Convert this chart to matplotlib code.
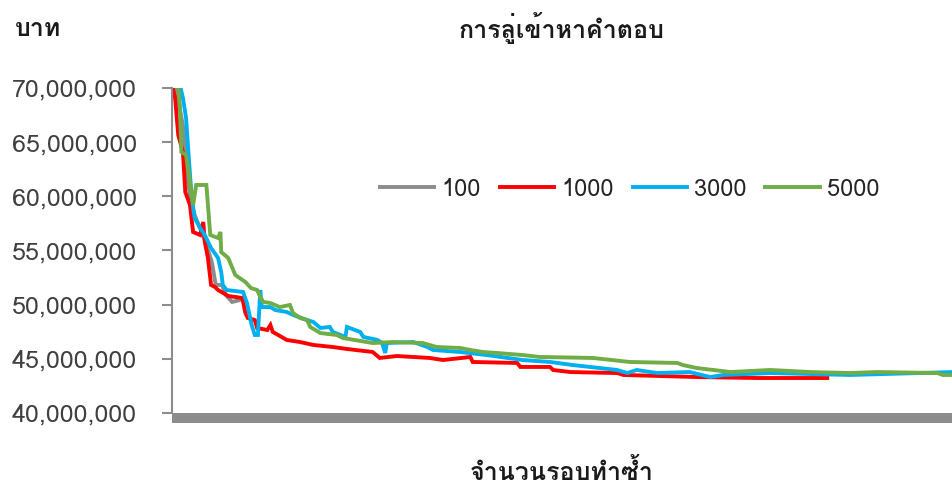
import matplotlib
matplotlib.use("Agg")
import matplotlib.pyplot as plt
from matplotlib import font_manager, ft2font
from matplotlib.patches import Rectangle
from matplotlib.ticker import FuncFormatter

# ── ข้อมูล (อ่านค่าจากภาพ) ───────────────────────────────
series_names = ["100", "1000", "3000", "5000"]
series_colors = ["#8c8c8c", "#ff0000", "#00b0f0", "#70ad47"]

x_100 = [3, 8, 15, 19, 23, 29, 42, 51, 56, 64, 69, 77, 87]
y_100 = [70.28e6, 68.89e6, 66.12e6, 61.97e6, 60.12e6, 58.28e6, 55.97e6,
         53.94e6, 51.82e6, 51.82e6, 50.89e6, 50.25e6, 50.43e6]

x_1000 = [0, 4, 8, 14, 17, 23, 27, 36, 40, 42, 46, 50, 55, 59, 72, 90, 94,
          97, 106, 109, 122, 126, 129, 136, 147, 164, 181, 206, 224, 257,
          266, 288, 330, 347, 382, 385, 442, 446, 484, 488, 510, 570, 578,
          672, 749, 839]
y_1000 = [70.28e6, 69.08e6, 65.66e6, 64.09e6, 60.40e6, 59.20e6, 56.71e6,
          56.43e6, 57.63e6, 55.78e6, 54.31e6, 51.82e6, 51.63e6, 51.35e6,
          50.80e6, 50.62e6, 49.23e6, 48.77e6, 48.58e6, 47.85e6, 47.66e6,
          48.12e6, 47.48e6, 47.20e6, 46.74e6, 46.55e6, 46.28e6, 46.09e6,
          45.91e6, 45.63e6, 45.08e6, 45.26e6, 45.08e6, 44.89e6, 45.17e6,
          44.71e6, 44.62e6, 44.25e6, 44.25e6, 43.97e6, 43.78e6, 43.69e6,
          43.51e6, 43.32e6, 43.23e6, 43.23e6]

x_3000 = [10, 14, 18, 21, 24, 27, 29, 36, 42, 50, 59, 63, 65, 70, 91, 96,
          102, 106, 110, 113, 115, 126, 132, 147, 155, 173, 181, 190, 202,
          206, 222, 224, 241, 245, 263, 269, 273, 275, 309, 327, 334, 369,
          403, 449, 484, 513, 570, 583, 595, 621, 663, 689, 706, 766, 868,
          1000]
y_3000 = [70.28e6, 69.08e6, 67.23e6, 64.09e6, 61.05e6, 58.92e6, 58.00e6,
          57.08e6, 56.43e6, 55.23e6, 54.31e6, 53.02e6, 51.82e6, 51.35e6,
          51.17e6, 50.15e6, 48.12e6, 47.20e6, 47.20e6, 51.35e6, 49.78e6,
          49.78e6, 49.51e6, 49.32e6, 49.05e6, 48.58e6, 48.40e6, 47.85e6,
          47.94e6, 47.48e6, 47.02e6, 47.94e6, 47.48e6, 47.02e6, 46.74e6,
          46.46e6, 45.54e6, 46.46e6, 46.55e6, 46.09e6, 45.82e6, 45.63e6,
          45.35e6, 44.89e6, 44.71e6, 44.43e6, 43.97e6, 43.69e6, 43.97e6,
          43.69e6, 43.78e6, 43.32e6, 43.51e6, 43.69e6, 43.51e6, 43.78e6]

x_5000 = [8, 10, 12, 18, 23, 27, 31, 44, 49, 59, 62, 63, 72, 81, 94, 101,
          109, 113, 117, 126, 138, 151, 155, 164, 173, 177, 190, 211, 219,
          257, 283, 321, 339, 369, 382, 398, 416, 449, 471, 539, 586, 647,
          654, 672, 715, 766, 817, 868, 903, 980, 987, 1000]
y_5000 = [70.28e6, 68.43e6, 64.09e6, 63.82e6, 61.32e6, 59.20e6, 61.05e6,
          61.05e6, 56.43e6, 56.15e6, 56.71e6, 54.86e6, 54.31e6, 52.74e6,
          52.09e6, 51.54e6, 51.35e6, 50.71e6, 50.25e6, 50.15e6, 49.78e6,
          49.97e6, 49.23e6, 48.77e6, 48.58e6, 47.94e6, 47.38e6, 47.20e6,
          46.92e6, 46.46e6, 46.55e6, 46.46e6, 46.09e6, 46.00e6, 45.82e6,
          45.63e6, 45.54e6, 45.35e6, 45.17e6, 45.08e6, 44.71e6, 44.62e6,
          44.43e6, 44.15e6, 43.78e6, 43.97e6, 43.78e6, 43.69e6, 43.78e6,
          43.69e6, 43.51e6, 43.51e6]

y_ticks = [40e6, 45e6, 50e6, 55e6, 60e6, 65e6, 70e6]

title_text = "การลู่เข้าหาคำตอบ"
ylabel_text = "บาท"
xlabel_text = "จำนวนรอบทำซ้ำ"


def thai_font():
    # หาฟอนต์ที่มีอักษรไทย
    for f in font_manager.fontManager.ttflist:
        try:
            if 0x0E01 in ft2font.FT2Font(f.fname).get_charmap():
                return f.name
        except Exception:
            pass
    return "DejaVu Sans"


thai = thai_font()
plt.rcParams["font.family"] = [thai, "DejaVu Sans"]

fig = plt.figure(figsize=(9.53, 4.96), dpi=100)
ax = fig.add_axes([172 / 953, 1 - 413 / 496, 781 / 953, 325 / 496])

xs = [x_100, x_1000, x_3000, x_5000]
ys = [y_100, y_1000, y_3000, y_5000]
for x, y, name, c in zip(xs, ys, series_names, series_colors):
    ax.plot(x, y, color=c, lw=2.8, label=name, solid_joinstyle="miter")

ax.set_xlim(0, 1000)
ax.set_ylim(40e6, 70e6)
ax.set_yticks(y_ticks)
ax.yaxis.set_major_formatter(FuncFormatter(lambda v, p: f"{v:,.0f}"))
ax.set_xticks([])

for s in ["top", "right", "bottom"]:
    ax.spines[s].set_visible(False)
ax.spines["left"].set_color("#8c8c8c")
ax.spines["left"].set_linewidth(1.5)
ax.tick_params(axis="y", length=7.2, width=1.5, color="#8c8c8c",
               pad=18, labelsize=18, labelcolor="#404040")

# แถบเทาใต้แกน x (ขีดแบ่งหมวดหมู่จำนวนมาก)
ax.add_patch(Rectangle((0, -10 / 325), 1, 10 / 325, transform=ax.transAxes,
                       color="#8c8c8c", clip_on=False, lw=0))

leg = ax.legend(loc="center", bbox_to_anchor=(0.586, 0.689), ncol=4,
                frameon=False, fontsize=17, handlelength=2.3,
                handletextpad=0.3, columnspacing=0.8)
for t in leg.get_texts():
    t.set_color("#262626")

fig.text(562 / 953, 1 - 28 / 496, title_text, ha="center", va="center",
         fontsize=18, fontweight="semibold", color="#1a1a1a")
fig.text(15 / 953, 1 - 30 / 496, ylabel_text, ha="left", va="center",
         fontsize=18, fontweight="semibold", color="#1a1a1a")
fig.text(562 / 953, 1 - 472 / 496, xlabel_text, ha="center", va="center",
         fontsize=18, fontweight="semibold", color="#1a1a1a")

fig.savefig("out.png", dpi=100)
